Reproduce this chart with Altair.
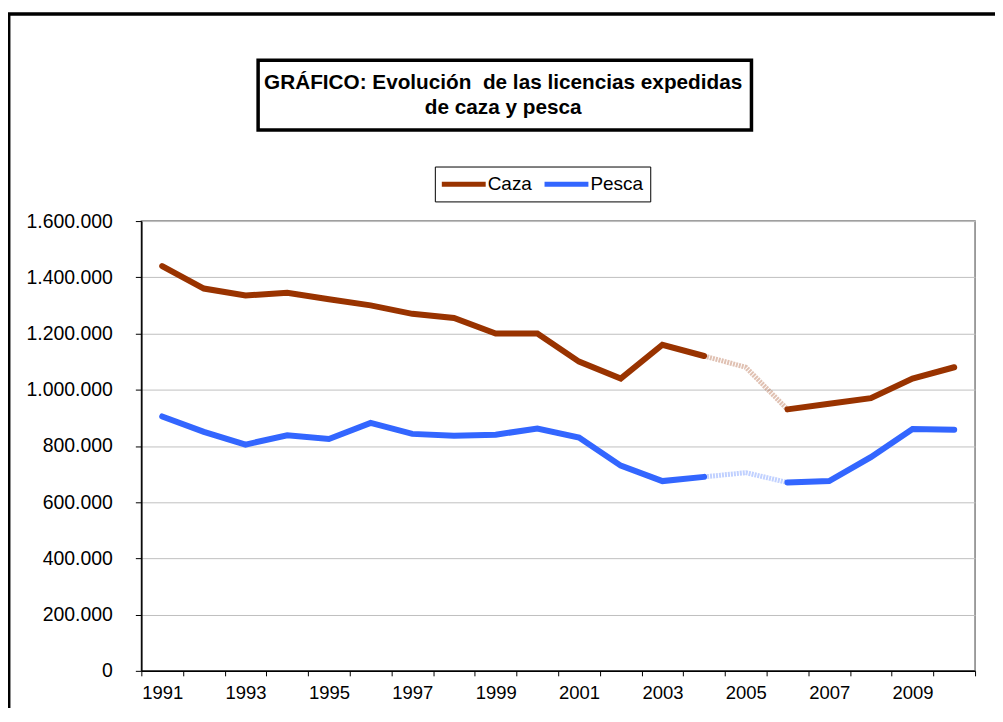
import altair as alt
import pandas as pd

years = list(range(1991, 2011))
caza = [1440000, 1360000, 1335000, 1345000, 1322000, 1300000, 1270000, 1255000, 1200000, 1200000,
        1100000, 1040000, 1160000, 1120000, 1080000, 930000, 950000, 970000, 1040000, 1080000]
pesca = [905000, 850000, 805000, 838000, 825000, 882000, 843000, 836000, 840000, 862000,
         830000, 730000, 675000, 690000, 705000, 670000, 675000, 760000, 860000, 858000]
series = ["Caza", "Pesca"]
colors = ["#993300", "#3366FF"]
title_lines = ["GRÁFICO: Evolución\u00a0 de las licencias expedidas", "de caza y pesca"]
gap_start, gap_end = 2004, 2006
y_ticks = [0, 200000, 400000, 600000, 800000, 1000000, 1200000, 1400000, 1600000]

solid_rows, faded_rows = [], []
for name, vals in zip(series, [caza, pesca]):
    for yr, v in zip(years, vals):
        if yr <= gap_start:
            solid_rows.append({"year": str(yr), "value": v, "serie": name, "tramo": name + "-a"})
        if yr >= gap_end:
            solid_rows.append({"year": str(yr), "value": v, "serie": name, "tramo": name + "-b"})
        if gap_start <= yr <= gap_end:
            faded_rows.append({"year": str(yr), "value": v, "serie": name})
solid = pd.DataFrame(solid_rows)
faded = pd.DataFrame(faded_rows)
one = pd.DataFrame({"k": [0]})

FONT = "Liberation Sans"
year_dom = [str(y) for y in years]

x_enc = alt.X(
    "year:O",
    bandPosition=0.5,
    scale=alt.Scale(type="band", domain=year_dom, paddingInner=0, paddingOuter=0),
    axis=alt.Axis(
        title=None, labelAngle=0, tickBand="extent", tickSize=5, tickColor="black",
        domainColor="black", domainWidth=1.5, labelFontSize=18.5, labelFont=FONT,
        labelColor="black", labelPadding=8, grid=False,
        labelExpr="toNumber(datum.value) % 2 == 1 ? datum.label : ''",
    ),
)
y_enc = alt.Y(
    "value:Q",
    scale=alt.Scale(domain=[0, 1600000], nice=False),
    axis=alt.Axis(
        title=None, values=y_ticks, tickSize=6, tickColor="black", domainColor="black",
        domainWidth=1.5, labelFontSize=19.5, labelFont=FONT, labelColor="black",
        labelPadding=23, grid=True, gridColor="#c0c0c0", gridWidth=1,
        labelExpr="replace(format(datum.value, ','), regexp(',', 'g'), '.')",
    ),
)
color_scale = alt.Scale(domain=series, range=colors)

lines = alt.Chart(solid).mark_line(strokeWidth=6, strokeCap="round").encode(
    x=x_enc,
    y=y_enc,
    color=alt.Color(
        "serie:N", scale=color_scale,
        legend=alt.Legend(
            title=None, orient="none", legendX=294.3, legendY=-54.7, direction="horizontal",
            strokeColor="black", padding=7, symbolType="M-1.3125,0H4.1875", symbolSize=256,
            symbolStrokeWidth=5, labelFontSize=19, labelFont=FONT, labelColor="black",
            labelOffset=25, columnPadding=2,
        ),
    ),
    detail="tramo:N",
)

gap = alt.Chart(faded).mark_line(strokeWidth=5, opacity=0.3, strokeDash=[2, 1]).encode(
    x=alt.X("year:O", bandPosition=0.5),
    y="value:Q",
    color=alt.Color("serie:N", scale=color_scale, legend=None),
)

outer = alt.Chart(one).mark_rect(fill=None, stroke="black", strokeWidth=3.5).encode(
    x=alt.value(-133), x2=alt.value(900), y=alt.value(-207.7), y2=alt.value(700)
)
tbox = alt.Chart(one).mark_rect(fill="white", stroke="black", strokeWidth=3.5).encode(
    x=alt.value(117.1), x2=alt.value(611.8), y=alt.value(-161.2), y2=alt.value(-91.2)
)
ttext = alt.Chart(one).mark_text(
    font=FONT, fontSize=20.8, fontWeight="bold", lineHeight=25, align="center",
    baseline="alphabetic", color="black"
).encode(x=alt.value(362.8), y=alt.value(-132.4), text=alt.value(title_lines))

chart = alt.layer(outer, tbox, ttext, lines, gap).properties(
    width=836, height=451,
    autosize=alt.AutoSizeParams(type="none"),
    padding={"left": 133.7, "top": 212.7, "right": 20, "bottom": 36},
    background="white",
).configure_view(stroke="#808080", strokeWidth=1.5)

chart.save("out.html", embed_options={"renderer": "svg", "actions": False})
